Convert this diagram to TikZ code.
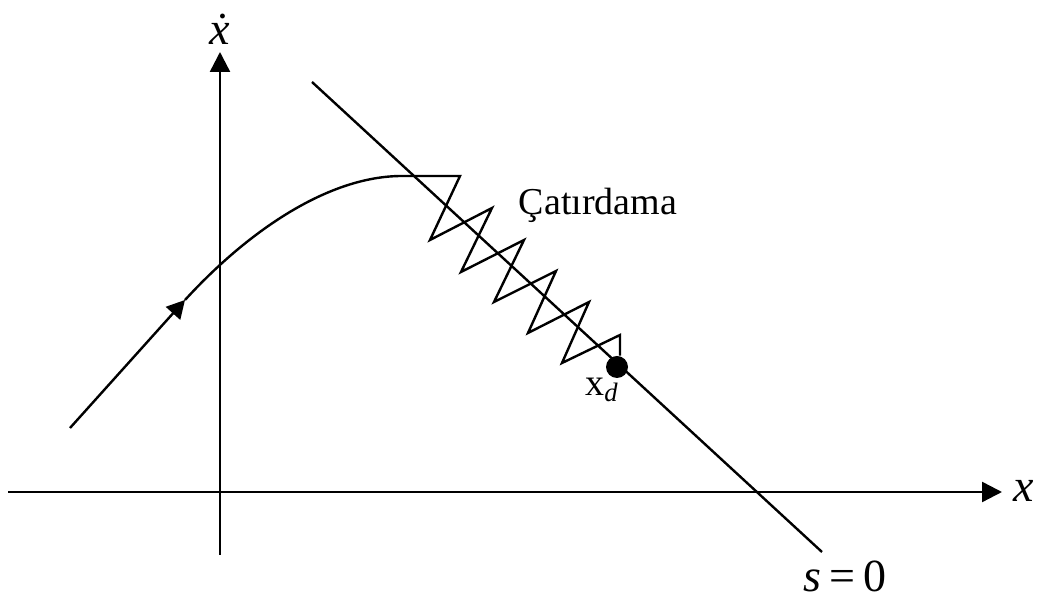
\documentclass[tikz,border=0pt]{standalone}
\usepackage{fontspec}
\setmainfont{Liberation Serif}
\usetikzlibrary{arrows.meta}
\tikzset{
  axisline/.style={line width=1.2pt,-{Triangle[length=10pt,width=10pt]}},
  slideline/.style={line width=1.2pt},
  trajline/.style={line width=1.2pt},
  trajarr/.style={line width=1.2pt,-{Triangle[length=9pt,width=9.5pt]}},
  chatter/.style={line width=1.2pt,line join=miter},
  eqpoint/.style={circle,fill,inner sep=0pt,minimum size=11pt},
  axlabel/.style={font=\fontsize{23}{26}\selectfont},
  txtlabel/.style={font=\fontsize{19}{22}\selectfont}
}
\begin{document}
\begin{tikzpicture}[x=0.5pt,y=0.5pt]
  \useasboundingbox (0,0) rectangle (1041,599);
  % axes
  \coordinate (xa0) at (8,107);
  \coordinate (xa1) at (1002,107);
  \coordinate (ya0) at (220,44);
  \coordinate (ya1) at (220,547);
  \draw[axisline] (xa0) -- (xa1);
  \draw[axisline] (ya0) -- (ya1);
  \node[axlabel,anchor=west] (xlab) at (1006,108) {\textit{x}};
  \node[axlabel] (ylab) at (220,570) {\textit{\.x}};

  % sliding surface
  \coordinate (s0) at (312,517);
  \coordinate (s1) at (822,47);
  \draw[slideline] (s0) -- (s1);
  \node[axlabel,inner sep=1pt] (slab) at (845,23) {\textit{s}\,=\,0};

  % reaching phase
  \coordinate (t0) at (70,171);
  \coordinate (t1) at (185,299);
  \coordinate (t2) at (402,423);
  \draw[trajarr] (t0) -- (t1);
  \draw[trajline] (t1) .. controls (250,370) and (330,423) .. (t2);

  % chattering
  \node[eqpoint] (xd) at (617,232) {};
  \draw[chatter] (t2) -- (460,423) -- (430,359) -- (492,391) -- (461,327)
    -- (524,359) -- (494,297) -- (556,328) -- (528,266) -- (589,297)
    -- (562,236) -- (620,264) -- (xd.north -| 620,0);
  \node[txtlabel] (chat) at (598,394) {Çatırdama};
  \node[txtlabel] (xdlab) at (602,209) {x\textsubscript{\textit{d}}};
\end{tikzpicture}
\end{document}
